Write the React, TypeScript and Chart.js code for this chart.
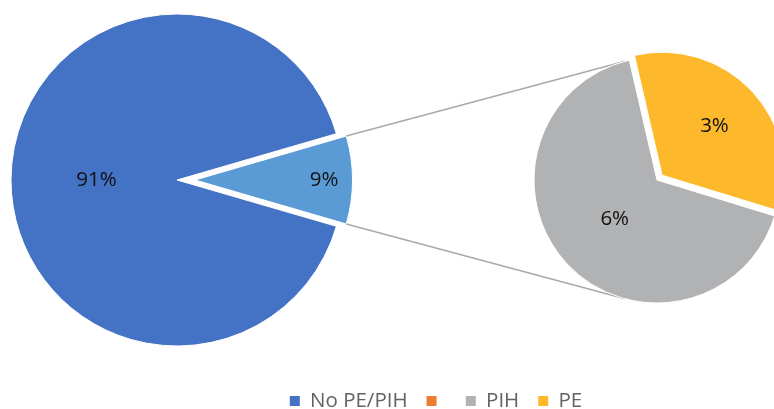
import React, { useEffect, useRef } from "react";
import { Chart, registerables } from "chart.js";

Chart.register(...registerables);

// ---- data ----
const mainCategories = ["No PE/PIH", "PE/PIH"];
const mainValues = [91, 9];
const mainColors = ["#4472C4", "#5B9BD5"];

const subCategories = ["PIH", "PE"];
const subValues = [6, 3];
const subColors = ["#B1B2B4", "#FDB92B"];

const legendLabels = ["No PE/PIH", "", "PIH", "PE"];
const legendColors = ["#4472C4", "#ED7D31", "#B1B2B4", "#FDB92B"];

// ---- styling / layout ----
const FONT = "'Open Sans', 'Noto Sans', sans-serif";
const LABEL_SIZE = 20.5;
const LEGEND_SIZE = 20.5;
const LEGEND_PAD = 19;
const LEGEND_TEXT = "#636363";
const MAIN_CX = 177;
const MAIN_CY = 180;
const MAIN_R = 166;
const SUB_R = 123;
const SUB_BOX = 300;
const SUB_LEFT = 657 - SUB_BOX / 2;
const SUB_TOP = 180 - SUB_BOX / 2;
const SUB_ROTATION = 107;
const mainExplode = [0, 18];
const mainRadiusScale = [1, 0.949];
const mainLabelPos = [0.485, 0.82];
const subExplode = [0, 7];
const subLabelPos = [0.47, 0.582];

const explodePlugin = {
  id: "explode",
  afterDatasetsUpdate(chart: any, _a: any, opts: any) {
    const meta = chart.getDatasetMeta(0);
    meta.data.forEach((el: any, i: number) => {
      const mid = (el.startAngle + el.endAngle) / 2;
      const e = (opts.offsets && opts.offsets[i]) || 0;
      el.x += Math.cos(mid) * e;
      el.y += Math.sin(mid) * e;
      const s = opts.scale && opts.scale[i] != null ? opts.scale[i] : 1;
      el.outerRadius *= s;
    });
  },
};

const labelPlugin = {
  id: "sliceLabels",
  afterDatasetsDraw(chart: any, _a: any, opts: any) {
    const ctx = chart.ctx;
    const meta = chart.getDatasetMeta(0);
    const data = chart.data.datasets[0].data;
    ctx.save();
    ctx.font = `${LABEL_SIZE}px ${FONT}`;
    ctx.fillStyle = "#111";
    ctx.textAlign = "center";
    ctx.textBaseline = "middle";
    meta.data.forEach((el: any, i: number) => {
      const mid = (el.startAngle + el.endAngle) / 2;
      const r = el.outerRadius * opts.pos[i];
      ctx.fillText(`${data[i]}%`, el.x + Math.cos(mid) * r, el.y + Math.sin(mid) * r);
    });
    ctx.restore();
  },
};

const placePlugin = {
  id: "place",
  afterLayout(chart: any, _a: any, opts: any) {
    const { cx, cy, r, legendX, legendY } = opts;
    chart.chartArea = { left: cx - r, top: cy - r, right: cx + r, bottom: cy + r, width: 2 * r, height: 2 * r };
    const lg = chart.legend;
    if (lg) {
      const w = lg.right - lg.left;
      const h = lg.bottom - lg.top;
      lg.left = legendX - w / 2;
      lg.right = lg.left + w;
      lg.top = legendY - LEGEND_PAD - LEGEND_SIZE / 2;
      lg.bottom = lg.top + h;
    }
  },
};

function makeConnector(getSub: () => { chart: any; dx: number; dy: number } | null) {
  return {
    id: "connector",
    afterDatasetsDraw(chart: any) {
      const sub = getSub();
      if (!sub) return;
      const el = chart.getDatasetMeta(0).data[1];
      const subEl = sub.chart.getDatasetMeta(0).data[0];
      if (!el || !subEl) return;
      const cx = subEl.x + sub.dx;
      const cy = subEl.y + sub.dy;
      const R = subEl.outerRadius;
      const corners = [el.startAngle, el.endAngle].map((a: number) => ({
        x: el.x + Math.cos(a) * el.outerRadius,
        y: el.y + Math.sin(a) * el.outerRadius,
      }));
      const ctx = chart.ctx;
      ctx.save();
      ctx.strokeStyle = "#A9A9A9";
      ctx.lineWidth = 1.5;
      corners.forEach((p: any, k: number) => {
        const vx = p.x - cx;
        const vy = p.y - cy;
        const d = Math.hypot(vx, vy);
        const phi = Math.atan2(vy, vx);
        const alpha = Math.acos(Math.min(1, R / d));
        const ang = k === 0 ? phi + alpha : phi - alpha;
        const tx = cx + Math.cos(ang) * R;
        const ty = cy + Math.sin(ang) * R;
        ctx.beginPath();
        ctx.moveTo(p.x, p.y);
        ctx.lineTo(tx, ty);
        ctx.stroke();
      });
      ctx.restore();
    },
  };
}

export default function App() {
  const refA = useRef<HTMLCanvasElement>(null);
  const refB = useRef<HTMLCanvasElement>(null);

  useEffect(() => {
    const total = mainValues.reduce((a, b) => a + b, 0);
    const mainRotation = 90 + (180 * mainValues[1]) / total;

    const chartB = new Chart(refB.current as HTMLCanvasElement, {
      type: "pie",
      data: {
        labels: subCategories,
        datasets: [
          {
            data: subValues,
            backgroundColor: subColors,
            borderColor: "#ffffff",
            borderWidth: 1,
          },
        ],
      },
      options: {
        responsive: false,
        animation: false,
        events: [],
        rotation: SUB_ROTATION,
        radius: SUB_R,
        layout: { padding: 0 },
        plugins: {
          legend: { display: false },
          tooltip: { enabled: false },
          explode: { offsets: subExplode },
          sliceLabels: { pos: subLabelPos },
        } as any,
      },
      plugins: [explodePlugin, labelPlugin],
    } as any);

    const subInfo = () => ({
      chart: chartB,
      dx: (refB.current as HTMLCanvasElement).offsetLeft,
      dy: (refB.current as HTMLCanvasElement).offsetTop,
    });

    const chartA = new Chart(refA.current as HTMLCanvasElement, {
      type: "pie",
      data: {
        labels: mainCategories,
        datasets: [
          {
            data: mainValues,
            backgroundColor: mainColors,
            borderColor: "#ffffff",
            borderWidth: 1,
          },
        ],
      },
      options: {
        responsive: false,
        animation: false,
        events: [],
        rotation: mainRotation,
        radius: MAIN_R,
        plugins: {
          tooltip: { enabled: false },
          legend: {
            display: true,
            position: "bottom",
            labels: {
              boxWidth: 10,
              boxHeight: 10,
              padding: LEGEND_PAD,
              color: LEGEND_TEXT,
              font: { family: FONT, size: LEGEND_SIZE },
              generateLabels: () =>
                legendLabels.map((text, i) => ({
                  text,
                  fillStyle: legendColors[i],
                  strokeStyle: legendColors[i],
                  lineWidth: 0,
                  hidden: false,
                  index: i,
                  fontColor: LEGEND_TEXT,
                })),
            },
          },
          explode: { offsets: mainExplode, scale: mainRadiusScale },
          sliceLabels: { pos: mainLabelPos },
          place: { cx: MAIN_CX, cy: MAIN_CY, r: MAIN_R, legendX: 436, legendY: 401 },
        } as any,
      },
      plugins: [placePlugin, explodePlugin, makeConnector(subInfo), labelPlugin],
    } as any);

    return () => {
      chartA.destroy();
      chartB.destroy();
    };
  }, []);

  return (
    <div
      style={{
        position: "fixed",
        left: 0,
        top: 0,
        width: 774,
        height: 409,
        overflow: "hidden",
        background: "#ffffff",
      }}
    >
      <canvas ref={refA} width={774} height={409} style={{ position: "absolute", left: 0, top: 0 }} />
      <canvas
        ref={refB}
        width={SUB_BOX}
        height={SUB_BOX}
        style={{ position: "absolute", left: SUB_LEFT, top: SUB_TOP }}
      />
    </div>
  );
}
